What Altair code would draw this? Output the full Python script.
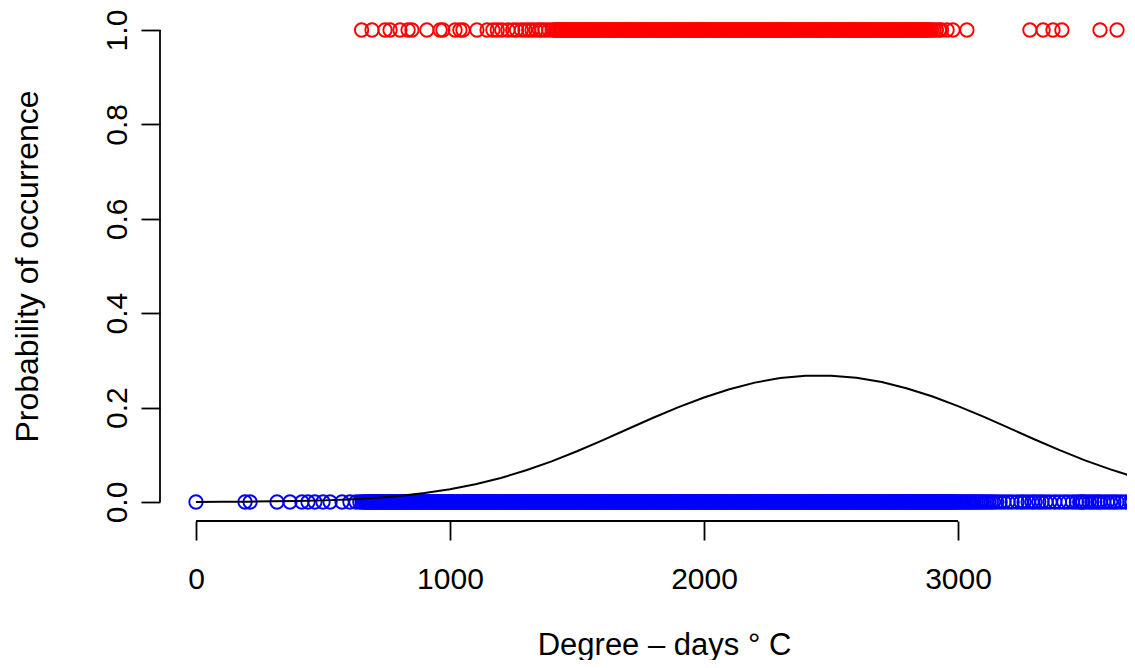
import altair as alt
import pandas as pd

# Degree-days of sites where the species is present (plotted at 1)
present_x = [
    652, 693, 744, 764, 803, 835, 850, 909, 961, 972, 1020, 1039, 1051, 1106,
    1146, 1169, 1186, 1204, 1228, 1247, 1262, 1281, 1295, 1310, 1323, 1338,
    1352, 1362, 1374, 1389, 1402, 1412, 1418,
    1421, 1426, 1432, 1437, 1441, 1446, 1452, 1457, 1461, 1466, 1472, 1477, 1481, 1486, 1492, 1497,
    1502, 1507, 1511, 1516, 1522, 1527, 1531, 1536, 1542, 1547, 1551, 1556, 1562, 1567, 1571, 1576, 1582, 1587, 1591, 1596,
    1603, 1608, 1612, 1617, 1623, 1628, 1632, 1637, 1643, 1648, 1652, 1657, 1663, 1668, 1672, 1677, 1683, 1688, 1692, 1697,
    1701, 1706, 1712, 1717, 1721, 1726, 1732, 1737, 1741, 1746, 1752, 1757, 1761, 1766, 1772, 1777, 1781, 1786, 1792, 1797,
    1802, 1807, 1811, 1816, 1822, 1827, 1831, 1836, 1842, 1847, 1851, 1856, 1862, 1867, 1871, 1876, 1882, 1887, 1891, 1896,
    1903, 1908, 1912, 1917, 1923, 1928, 1932, 1937, 1943, 1948, 1952, 1957, 1963, 1968, 1972, 1977, 1983, 1988, 1992, 1997,
    2001, 2006, 2012, 2017, 2021, 2026, 2032, 2037, 2041, 2046, 2052, 2057, 2061, 2066, 2072, 2077, 2081, 2086, 2092, 2097,
    2102, 2107, 2111, 2116, 2122, 2127, 2131, 2136, 2142, 2147, 2151, 2156, 2162, 2167, 2171, 2176, 2182, 2187, 2191, 2196,
    2203, 2208, 2212, 2217, 2223, 2228, 2232, 2237, 2243, 2248, 2252, 2257, 2263, 2268, 2272, 2277, 2283, 2288, 2292, 2297,
    2301, 2306, 2312, 2317, 2321, 2326, 2332, 2337, 2341, 2346, 2352, 2357, 2361, 2366, 2372, 2377, 2381, 2386, 2392, 2397,
    2402, 2407, 2411, 2416, 2422, 2427, 2431, 2436, 2442, 2447, 2451, 2456, 2462, 2467, 2471, 2476, 2482, 2487, 2491, 2496,
    2503, 2508, 2512, 2517, 2523, 2528, 2532, 2537, 2543, 2548, 2552, 2557, 2563, 2568, 2572, 2577, 2583, 2588, 2592, 2597,
    2601, 2606, 2612, 2617, 2621, 2626, 2632, 2637, 2641, 2646, 2652, 2657, 2661, 2666, 2672, 2677, 2681, 2686, 2692, 2697,
    2702, 2707, 2711, 2716, 2722, 2727, 2731, 2736, 2742, 2747, 2751, 2756, 2762, 2767, 2771, 2776, 2782, 2787, 2791, 2796,
    2803, 2808, 2812, 2817, 2823, 2828, 2832, 2837, 2843, 2848, 2852, 2857, 2863, 2868, 2872, 2877, 2881,
    2889, 2896, 2905, 2915, 2926, 2935, 2957, 2980, 3035,
    3283, 3335, 3374, 3409, 3559, 3626,
]

# Degree-days of sites where the species is absent (plotted at 0)
absent_x = [
    0, 193, 213, 319, 370, 417, 441, 468, 500, 528, 575, 606, 630, 645, 654,
    662, 667, 672, 676, 681, 687, 692, 696,
    701, 706, 712, 717, 721, 726, 732, 737, 741, 746, 752, 757, 761, 766, 772, 777, 781, 786, 792, 797,
    802, 807, 811, 816, 822, 827, 831, 836, 842, 847, 851, 856, 862, 867, 871, 876, 882, 887, 891, 896,
    903, 908, 912, 917, 923, 928, 932, 937, 943, 948, 952, 957, 963, 968, 972, 977, 983, 988, 992, 997,
    1001, 1006, 1012, 1017, 1021, 1026, 1032, 1037, 1041, 1046, 1052, 1057, 1061, 1066, 1072, 1077, 1081, 1086, 1092, 1097,
    1102, 1107, 1111, 1116, 1122, 1127, 1131, 1136, 1142, 1147, 1151, 1156, 1162, 1167, 1171, 1176, 1182, 1187, 1191, 1196,
    1203, 1208, 1212, 1217, 1223, 1228, 1232, 1237, 1243, 1248, 1252, 1257, 1263, 1268, 1272, 1277, 1283, 1288, 1292, 1297,
    1301, 1306, 1312, 1317, 1321, 1326, 1332, 1337, 1341, 1346, 1352, 1357, 1361, 1366, 1372, 1377, 1381, 1386, 1392, 1397,
    1402, 1407, 1411, 1416, 1422, 1427, 1431, 1436, 1442, 1447, 1451, 1456, 1462, 1467, 1471, 1476, 1482, 1487, 1491, 1496,
    1503, 1508, 1512, 1517, 1523, 1528, 1532, 1537, 1543, 1548, 1552, 1557, 1563, 1568, 1572, 1577, 1583, 1588, 1592, 1597,
    1601, 1606, 1612, 1617, 1621, 1626, 1632, 1637, 1641, 1646, 1652, 1657, 1661, 1666, 1672, 1677, 1681, 1686, 1692, 1697,
    1702, 1707, 1711, 1716, 1722, 1727, 1731, 1736, 1742, 1747, 1751, 1756, 1762, 1767, 1771, 1776, 1782, 1787, 1791, 1796,
    1803, 1808, 1812, 1817, 1823, 1828, 1832, 1837, 1843, 1848, 1852, 1857, 1863, 1868, 1872, 1877, 1883, 1888, 1892, 1897,
    1901, 1906, 1912, 1917, 1921, 1926, 1932, 1937, 1941, 1946, 1952, 1957, 1961, 1966, 1972, 1977, 1981, 1986, 1992, 1997,
    2002, 2007, 2011, 2016, 2022, 2027, 2031, 2036, 2042, 2047, 2051, 2056, 2062, 2067, 2071, 2076, 2082, 2087, 2091, 2096,
    2103, 2108, 2112, 2117, 2123, 2128, 2132, 2137, 2143, 2148, 2152, 2157, 2163, 2168, 2172, 2177, 2183, 2188, 2192, 2197,
    2201, 2206, 2212, 2217, 2221, 2226, 2232, 2237, 2241, 2246, 2252, 2257, 2261, 2266, 2272, 2277, 2281, 2286, 2292, 2297,
    2302, 2307, 2311, 2316, 2322, 2327, 2331, 2336, 2342, 2347, 2351, 2356, 2362, 2367, 2371, 2376, 2382, 2387, 2391, 2396,
    2403, 2408, 2412, 2417, 2423, 2428, 2432, 2437, 2443, 2448, 2452, 2457, 2463, 2468, 2472, 2477, 2483, 2488, 2492, 2497,
    2501, 2506, 2512, 2517, 2521, 2526, 2532, 2537, 2541, 2546, 2552, 2557, 2561, 2566, 2572, 2577, 2581, 2586, 2592, 2597,
    2602, 2607, 2611, 2616, 2622, 2627, 2631, 2636, 2642, 2647, 2651, 2656, 2662, 2667, 2671, 2676, 2682, 2687, 2691, 2696,
    2703, 2708, 2712, 2717, 2723, 2728, 2732, 2737, 2743, 2748, 2752, 2757, 2763, 2768, 2772, 2777, 2783, 2788, 2792, 2797,
    2801, 2806, 2812, 2817, 2821, 2826, 2832, 2837, 2841, 2846, 2852, 2857, 2861, 2866, 2872, 2877, 2881, 2886, 2892, 2897,
    2902, 2907, 2911, 2916, 2922, 2927, 2931, 2936, 2942, 2947, 2951, 2956, 2962, 2967, 2971, 2976, 2982, 2987, 2991, 2996,
    3003, 3009, 3016, 3022, 3029, 3036, 3043, 3049, 3057, 3064, 3072, 3079, 3088, 3095, 3104, 3112, 3121, 3131, 3140,
    3152, 3166, 3181, 3197, 3213, 3232, 3248, 3260, 3276, 3291, 3303, 3318, 3331, 3346, 3362, 3381, 3399, 3417,
    3433, 3451, 3466, 3479, 3488, 3492, 3503, 3516, 3527, 3539, 3551, 3559, 3574, 3588, 3601, 3614,
    3626, 3642, 3659, 3677, 3685,
]

# Fitted probability curve
curve_x = [0, 100, 200, 300, 400, 500, 600, 700, 800, 900, 1000, 1100, 1200,
           1300, 1400, 1500, 1600, 1700, 1800, 1900, 2000, 2100, 2200, 2300,
           2400, 2500, 2600, 2700, 2800, 2900, 3000, 3100, 3200, 3300, 3400,
           3500, 3600, 3680]
curve_p = [0.0002, 0.0004, 0.0007, 0.0013, 0.0021, 0.0034, 0.0055, 0.0085,
           0.0128, 0.0188, 0.0269, 0.0375, 0.0509, 0.0671, 0.0861, 0.1075,
           0.1306, 0.1546, 0.1784, 0.2011, 0.2215, 0.2390, 0.2529, 0.2625,
           0.2674, 0.2677, 0.2631, 0.2540, 0.2406, 0.2234, 0.2032, 0.1807,
           0.1569, 0.1329, 0.1098, 0.0882, 0.0690, 0.0555]

x_ticks = [0, 1000, 2000, 3000]
y_ticks = [0.0, 0.2, 0.4, 0.6, 0.8, 1.0]

W, H = 967, 510
FONT = "Liberation Sans"
FS = 30
TFS = 32

xscale = alt.Scale(domain=[-141.7, 3665.3], nice=False, zero=False)
yscale = alt.Scale(domain=[-0.0403, 1.0403], nice=False, zero=False)

pts = pd.DataFrame({
    "x": present_x + absent_x,
    "y": [1] * len(present_x) + [0] * len(absent_x),
    "grp": ["present"] * len(present_x) + ["absent"] * len(absent_x),
})
curve = pd.DataFrame({"x": curve_x, "y": curve_p})

x_axis = alt.Axis(
    values=x_ticks, format="d", domain=False, grid=False, tickSize=19,
    tickWidth=1.8, tickColor="black", labelFont=FONT, labelFontSize=FS,
    labelColor="black", labelPadding=48, labelBaseline="alphabetic",
    labelFlush=False, labelOverlap=False, title="Degree – days ° C",
    titleFont=FONT, titleFontSize=31, titleFontWeight="normal",
    titleColor="black", titleX=504, titleY=133, titleBaseline="alphabetic",
    titleAlign="center",
)
y_axis = alt.Axis(
    values=y_ticks, format=".1f", domain=False, grid=False, tickSize=19,
    tickWidth=1.8, tickColor="black", labelFont=FONT, labelFontSize=FS,
    labelColor="black", labelAngle=270, labelAlign="center",
    labelBaseline="alphabetic", labelPadding=15, labelFlush=False,
    labelOverlap=False, title="Probability of occurrence", titleFont=FONT,
    titleFontSize=TFS, titleFontWeight="normal", titleColor="black",
    titleAngle=270, titleX=-123, titleY=255, titleBaseline="alphabetic",
    titleAlign="center",
)

X = alt.X("x:Q", scale=xscale, axis=x_axis)
Y = alt.Y("y:Q", scale=yscale, axis=y_axis)

points = alt.Chart(pts).mark_point(
    shape="circle", filled=False, size=180, strokeWidth=1.9, clip=True, opacity=1
).encode(
    x=X, y=Y,
    color=alt.Color("grp:N", scale=alt.Scale(domain=["present", "absent"],
                                              range=["#FF0000", "#0000FF"]),
                    legend=None),
)

line = alt.Chart(curve).mark_line(color="black", strokeWidth=2, clip=True).encode(
    x=X, y=Y,
)

xdom = alt.Chart(pd.DataFrame({"x": [x_ticks[0]], "x2": [x_ticks[-1]]})).mark_rule(
    color="black", strokeWidth=1.8
).encode(
    x=X, x2="x2:Q", y=alt.value(H)
)
ydom = alt.Chart(pd.DataFrame({"y": [y_ticks[0]], "y2": [y_ticks[-1]]})).mark_rule(
    color="black", strokeWidth=1.8
).encode(
    y=Y, y2="y2:Q", x=alt.value(0)
)

chart = alt.layer(points, line, xdom, ydom).properties(
    width=W, height=H,
    padding={"left": 152, "top": 3, "right": 0, "bottom": 139},
    autosize=alt.AutoSizeParams(type="none"),
    background="white",
).configure_view(stroke=None)

chart.save("out.html", embed_options={"renderer": "svg", "actions": False})
